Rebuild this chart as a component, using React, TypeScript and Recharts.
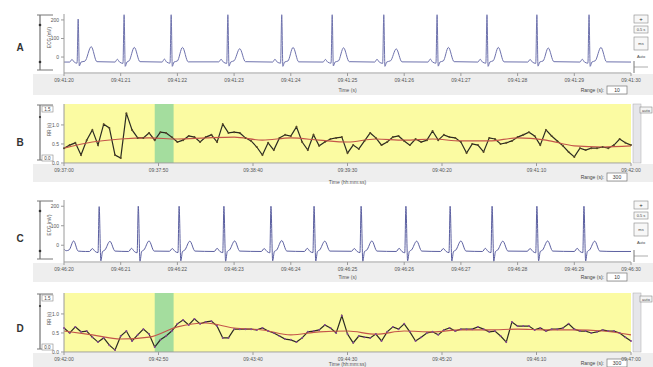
import React from 'react';
import { LineChart, Line, XAxis, YAxis, CartesianGrid, ReferenceArea } from 'recharts';

// ---------- ECG panels (A, C): [time s, amplitude] ----------
const ecgA: [number, number][] = [
  [0, -27],
  [0.10, -27], [0.14, -13], [0.18, -27], [0.23, -33], [0.25, 205], [0.27, -48], [0.30, -27], [0.37, -22], [0.48, 56], [0.58, -25],
  [0.90, -27], [0.94, -12], [0.98, -27], [1.04, -34], [1.06, 228], [1.08, -50], [1.11, -27], [1.15, -20], [1.24, 52], [1.34, -25],
  [1.73, -27], [1.77, -11], [1.81, -27], [1.87, -33], [1.89, 228], [1.91, -50], [1.94, -27], [2.00, -21], [2.09, 52], [2.19, -26],
  [2.73, -26], [2.77, -12], [2.81, -27], [2.87, -34], [2.89, 228], [2.91, -49], [2.94, -27], [3.00, -20], [3.10, 45], [3.20, -25],
  [3.68, -27], [3.72, -12], [3.76, -27], [3.82, -33], [3.84, 228], [3.86, -50], [3.89, -27], [3.95, -21], [4.04, 52], [4.14, -26],
  [4.57, -27], [4.61, -13], [4.65, -27], [4.71, -33], [4.73, 228], [4.75, -48], [4.78, -27], [4.84, -21], [4.93, 50], [5.03, -25],
  [5.48, -27], [5.52, -12], [5.56, -27], [5.62, -34], [5.64, 228], [5.66, -50], [5.69, -27], [5.76, -20], [5.86, 44], [5.96, -26],
  [6.42, -27], [6.46, -11], [6.50, -27], [6.56, -33], [6.58, 228], [6.60, -49], [6.63, -27], [6.69, -21], [6.78, 52], [6.88, -25],
  [7.30, -27], [7.34, -12], [7.38, -27], [7.44, -33], [7.46, 228], [7.48, -50], [7.51, -27], [7.57, -20], [7.66, 52], [7.76, -26],
  [8.18, -27], [8.22, -13], [8.26, -27], [8.32, -34], [8.34, 228], [8.36, -49], [8.39, -27], [8.45, -21], [8.54, 49], [8.64, -25],
  [9.10, -27], [9.14, -12], [9.18, -27], [9.24, -33], [9.26, 228], [9.28, -50], [9.31, -27], [9.37, -20], [9.47, 52], [9.57, -26],
  [10, -27],
];

const ecgC: [number, number][] = [
  [0, -20], [0.04, -28], [0.09, -24], [0.17, 22], [0.25, -30], [0.38, -32],
  [0.45, -32], [0.50, -17], [0.55, -32], [0.60, -38], [0.62, 198], [0.65, -80], [0.68, -32], [0.72, -25], [0.81, 20], [0.90, -30],
  [1.14, -32], [1.19, -16], [1.24, -32], [1.29, -39], [1.31, 200], [1.34, -82], [1.37, -32], [1.41, -24], [1.50, 22], [1.59, -30],
  [1.86, -31], [1.91, -17], [1.96, -32], [2.01, -38], [2.03, 200], [2.06, -80], [2.09, -32], [2.13, -25], [2.22, 21], [2.31, -30],
  [2.65, -32], [2.70, -16], [2.75, -32], [2.80, -38], [2.82, 200], [2.85, -82], [2.88, -32], [2.92, -24], [3.01, 22], [3.10, -30],
  [3.48, -32], [3.53, -17], [3.58, -32], [3.63, -39], [3.65, 200], [3.68, -80], [3.71, -32], [3.75, -25], [3.84, 24], [3.93, -30],
  [4.24, -32], [4.29, -16], [4.34, -32], [4.39, -38], [4.41, 200], [4.44, -81], [4.47, -32], [4.51, -24], [4.60, 21], [4.69, -30],
  [5.07, -31], [5.12, -17], [5.17, -32], [5.22, -38], [5.24, 200], [5.27, -82], [5.30, -32], [5.34, -25], [5.43, 22], [5.52, -30],
  [5.86, -32], [5.91, -16], [5.96, -32], [6.01, -39], [6.03, 200], [6.06, -80], [6.09, -32], [6.13, -24], [6.22, 21], [6.31, -30],
  [6.64, -32], [6.69, -17], [6.74, -32], [6.79, -38], [6.81, 200], [6.84, -81], [6.87, -32], [6.91, -25], [7.00, 22], [7.09, -30],
  [7.38, -32], [7.43, -16], [7.48, -32], [7.53, -38], [7.55, 200], [7.58, -82], [7.61, -32], [7.65, -24], [7.74, 21], [7.83, -30],
  [8.17, -31], [8.22, -17], [8.27, -32], [8.32, -39], [8.34, 200], [8.37, -80], [8.40, -32], [8.44, -25], [8.53, 22], [8.62, -30],
  [9.00, -32], [9.05, -16], [9.10, -32], [9.15, -38], [9.17, 200], [9.20, -81], [9.23, -32], [9.27, -24], [9.36, 21], [9.45, -30],
  [9.70, -32], [10, -32],
];

const ecgTicks = [0, 1, 2, 3, 4, 5, 6, 7, 8, 9, 10];
const ecgATickLabels = ['09:41:20', '09:41:21', '09:41:22', '09:41:23', '09:41:24', '09:41:25', '09:41:26', '09:41:27', '09:41:28', '09:41:29', '09:41:30'];
const ecgCTickLabels = ['09:46:20', '09:46:21', '09:46:22', '09:46:23', '09:46:24', '09:46:25', '09:46:26', '09:46:27', '09:46:28', '09:46:29', '09:46:30'];
const ecgYTicks = [0, 100, 200];

// ---------- RR panels (B, D) ----------
const rrTimes = [0, 3, 6, 9, 12, 15, 18, 21, 24, 27, 30, 33, 36, 39, 42, 45, 48, 51, 54, 57, 60, 63, 66, 69, 72, 75, 78, 81, 84, 87,
  90, 93, 96, 99, 102, 105, 108, 111, 114, 117, 120, 123, 126, 129, 132, 135, 138, 141, 144, 147, 150, 153, 156, 159, 162, 165, 168, 171, 174, 177,
  180, 183, 186, 189, 192, 195, 198, 201, 204, 207, 210, 213, 216, 219, 222, 225, 228, 231, 234, 237, 240, 243, 246, 249, 252, 255, 258, 261, 264, 267,
  270, 273, 276, 279, 282, 285, 288, 291, 294, 297, 300];

const rrB = [0.39, 0.47, 0.53, 0.21, 0.60, 0.87, 0.47, 1.02, 0.92, 0.21,
  0.13, 1.31, 0.87, 0.66, 0.66, 0.79, 0.60, 0.81, 0.79, 0.68,
  0.55, 0.60, 0.71, 0.68, 0.55, 0.68, 0.74, 0.55, 1.02, 0.79,
  0.81, 0.79, 0.66, 0.58, 0.42, 0.21, 0.53, 0.34, 0.66, 0.74,
  0.71, 0.95, 0.55, 0.34, 0.74, 0.45, 0.55, 0.63, 0.66, 0.68,
  0.26, 0.47, 0.37, 0.58, 0.79, 0.66, 0.47, 0.55, 0.68, 0.71,
  0.58, 0.47, 0.63, 0.55, 0.60, 0.84, 0.60, 0.74, 0.68, 0.66,
  0.55, 0.26, 0.50, 0.47, 0.29, 0.66, 0.63, 0.50, 0.53, 0.58,
  0.68, 0.74, 0.81, 0.71, 0.47, 0.87, 0.71, 0.58, 0.45, 0.29,
  0.16, 0.39, 0.34, 0.39, 0.39, 0.42, 0.39, 0.47, 0.63, 0.53,
  0.47];

const rrD = [0.63, 0.50, 0.66, 0.53, 0.55, 0.39, 0.26, 0.37, 0.18, 0.05,
  0.42, 0.55, 0.29, 0.45, 0.60, 0.47, 0.13, 0.32, 0.42, 0.55,
  0.74, 0.84, 0.71, 0.87, 0.74, 0.79, 0.81, 0.68, 0.37, 0.37,
  0.60, 0.60, 0.60, 0.60, 0.58, 0.63, 0.55, 0.50, 0.42, 0.34,
  0.32, 0.26, 0.37, 0.53, 0.55, 0.58, 0.71, 0.63, 0.50, 0.95,
  0.47, 0.24, 0.42, 0.39, 0.37, 0.47, 0.29, 0.53, 0.66, 0.60,
  0.74, 0.53, 0.29, 0.39, 0.50, 0.53, 0.45, 0.58, 0.63, 0.55,
  0.60, 0.60, 0.60, 0.66, 0.60, 0.53, 0.55, 0.42, 0.26, 0.79,
  0.68, 0.68, 0.68, 0.58, 0.63, 0.55, 0.60, 0.60, 0.63, 0.74,
  0.60, 0.55, 0.55, 0.50, 0.53, 0.58, 0.55, 0.55, 0.50, 0.39,
  0.29];

const trendTimes = [0, 15, 30, 45, 60, 75, 90, 105, 120, 135, 150, 165, 180, 195, 210, 225, 240, 255, 270, 285, 300];
const trendB = [0.39, 0.55, 0.63, 0.66, 0.63, 0.66, 0.68, 0.60, 0.66, 0.60, 0.55, 0.63, 0.60, 0.63, 0.58, 0.58, 0.66, 0.60, 0.45, 0.42, 0.45];
const trendD = [0.55, 0.45, 0.34, 0.39, 0.66, 0.76, 0.63, 0.58, 0.45, 0.53, 0.55, 0.47, 0.55, 0.53, 0.58, 0.58, 0.60, 0.58, 0.58, 0.55, 0.45];

const rrTicks = [0, 50, 100, 150, 200, 250, 300];
const rrBTickLabels = ['09:37:00', '09:37:50', '09:38:40', '09:39:30', '09:40:20', '09:41:10', '09:42:00'];
const rrDTickLabels = ['09:42:00', '09:42:50', '09:43:40', '09:44:30', '09:45:20', '09:46:10', '09:47:00'];
const rrYTicks = [0, 0.5, 1.0];
const selectionB: [number, number] = [48, 58];
const selectionD: [number, number] = [48, 58];

const FONT = 'Liberation Sans, Arial, sans-serif';
const AXIS = '#9a9a9a';
const TICK = { fontSize: 5, fill: '#555' };

function EcgPanel({ top, height, mt, xh, pts, labels, color }: any) {
  const data = pts.map(([t, v]: [number, number]) => ({ t, v }));
  return (
    <div style={{ position: 'absolute', left: 0, top }}>
      <LineChart width={653} height={height} data={data} margin={{ top: mt, right: 22, bottom: 0, left: 50 }}>
        <CartesianGrid horizontal={false} vertical={false} fill="#ffffff" />
        <XAxis dataKey="t" type="number" domain={[0, 10]} ticks={ecgTicks} interval={0}
          tickFormatter={(v: number) => labels[Math.round(v)]} height={xh} tick={TICK} tickSize={3} stroke={AXIS}
          label={{ value: 'Time (s)', position: 'insideBottom', offset: 3, fontSize: 5, fill: '#555' }} />
        <XAxis xAxisId="top" orientation="top" dataKey="t" type="number" domain={[0, 10]} ticks={ecgTicks}
          height={0} tick={false} tickSize={3} stroke={AXIS} />
        <YAxis domain={[-86, 232]} ticks={ecgYTicks} width={14} tick={TICK} tickSize={3} stroke={AXIS} />
        <YAxis yAxisId="r" orientation="right" width={0} tick={false} tickLine={false} stroke={AXIS} />
        <Line dataKey="v" type="monotoneX" stroke={color} strokeWidth={1} dot={false} isAnimationActive={false} />
      </LineChart>
    </div>
  );
}

function RrPanel({ top, height, mt, xh, values, trend, labels, sel, dotColor }: any) {
  const raw = rrTimes.map((t, i) => ({ t, v: values[i] }));
  const smooth = trendTimes.map((t, i) => ({ t, v: trend[i] }));
  return (
    <div style={{ position: 'absolute', left: 0, top }}>
      <LineChart width={653} height={height} margin={{ top: mt, right: 22, bottom: 0, left: 50 }}>
        <CartesianGrid horizontal={false} vertical={false} fill="#fbfba2" />
        <ReferenceArea x1={sel[0]} x2={sel[1]} fill="#a4dd9e" fillOpacity={1} stroke="none" />
        <XAxis dataKey="t" type="number" domain={[0, 300]} ticks={rrTicks} interval={0}
          tickFormatter={(v: number) => labels[Math.round(v / 50)]} height={xh} tick={TICK} tickSize={3} stroke={AXIS}
          label={{ value: 'Time (hh:mm:ss)', position: 'insideBottom', offset: 1, fontSize: 5, fill: '#555' }} />
        <XAxis xAxisId="top" orientation="top" dataKey="t" type="number" domain={[0, 300]} ticks={rrTicks}
          height={0} tick={false} tickSize={4} stroke={AXIS} />
        <YAxis domain={[0, 1.55]} ticks={rrYTicks} width={14} tick={TICK} tickSize={3} stroke={AXIS}
          tickFormatter={(v: number) => v.toFixed(1)} />
        <YAxis yAxisId="r" orientation="right" width={0} tick={false} tickLine={false} stroke={AXIS} />
        <Line data={raw} dataKey="v" type="linear" stroke="#2b2b22" strokeWidth={1.2}
          dot={{ r: 1, fill: dotColor, stroke: 'none' }} isAnimationActive={false} />
        <Line data={smooth} dataKey="v" type="monotoneX" stroke="#c4554a" strokeWidth={1.1} dot={false} isAnimationActive={false} />
      </LineChart>
    </div>
  );
}

const frames = [
  { letter: 'A', top: 14, bottom: 73, cy: 47, kind: 'ecg', band: 21, range: '10' },
  { letter: 'B', top: 104, bottom: 163, cy: 142, kind: 'rr', band: 18, range: '300' },
  { letter: 'C', top: 200, bottom: 262, cy: 238, kind: 'ecg', band: 19, range: '10' },
  { letter: 'D', top: 293, bottom: 352, cy: 328, kind: 'rr', band: 15, range: '300' },
];

function Chrome() {
  return (
    <svg width={653} height={367} style={{ position: 'absolute', left: 0, top: 0 }} fontFamily={FONT}>
      {frames.map((f) => {
        const mid = (f.top + f.bottom) / 2;
        const ry = f.bottom + f.band - 4;
        return (
          <g key={f.letter}>
            <rect x={33} y={f.bottom + 1} width={620} height={f.band} fill="#eeeeee" />
            <text x={20} y={f.cy + 4} fontSize={10} fontWeight="bold" fill="#333" textAnchor="middle">{f.letter}</text>
            <line x1={40} y1={f.top + 1} x2={40} y2={f.bottom - 3} stroke="#555" strokeWidth={1} />
            <line x1={37} y1={f.top + 1} x2={53} y2={f.top + 1} stroke="#777" strokeWidth={1} />
            <line x1={37} y1={f.bottom - 3} x2={53} y2={f.bottom - 3} stroke="#777" strokeWidth={1} />
            {f.kind === 'ecg' ? (
              <g>
                <circle cx={40} cy={f.top + 11} r={1.3} fill="#333" />
                <circle cx={40} cy={f.bottom - 11} r={1.3} fill="#333" />
                <text transform={`translate(51 ${mid - 6}) rotate(-90)`} fontSize={4.5} fill="#555" textAnchor="middle">ECG (mV)</text>
              </g>
            ) : (
              <g>
                <rect x={42} y={f.top + 2} width={11} height={6} fill="#fff" stroke="#888" strokeWidth={0.6} />
                <text x={47.5} y={f.top + 6.6} fontSize={4.5} fill="#444" textAnchor="middle">1.5</text>
                <rect x={42} y={f.bottom - 8} width={11} height={6} fill="#fff" stroke="#888" strokeWidth={0.6} />
                <text x={47.5} y={f.bottom - 3.4} fontSize={4.5} fill="#444" textAnchor="middle">0.0</text>
                <circle cx={40} cy={f.top + 13} r={1.1} fill="#333" />
                <text transform={`translate(51 ${mid - 4}) rotate(-90)`} fontSize={4.5} fill="#555" textAnchor="middle">RR (s)</text>
              </g>
            )}
            {f.kind === 'ecg' ? (
              <g>
                <rect x={634} y={f.top + 1} width={14} height={8} fill="#f7f7f7" stroke="#888" strokeWidth={0.6} />
                <text x={641} y={f.top + 7} fontSize={6} fill="#333" textAnchor="middle">+</text>
                <rect x={634} y={f.top + 12} width={14} height={7} fill="#f7f7f7" stroke="#888" strokeWidth={0.6} />
                <text x={641} y={f.top + 17} fontSize={4} fill="#444" textAnchor="middle">0.5 s</text>
                <rect x={634} y={f.top + 23} width={14} height={13} fill="#f7f7f7" stroke="#888" strokeWidth={0.6} />
                <text x={641} y={f.top + 31} fontSize={4} fill="#444" textAnchor="middle">ms</text>
                <text x={641} y={f.top + 44} fontSize={4} fill="#444" textAnchor="middle">Auto</text>
                <line x1={634} y1={f.bottom - 12} x2={634} y2={f.bottom} stroke="#555" strokeWidth={0.8} />
                <line x1={634} y1={f.bottom - 6} x2={648} y2={f.bottom - 6} stroke="#777" strokeWidth={0.6} />
              </g>
            ) : (
              <g>
                <rect x={633} y={f.top} width={8} height={f.bottom - f.top} fill="#e6e6ea" stroke="#aaa" strokeWidth={0.5} />
                <rect x={640} y={f.top + 3} width={12} height={6} fill="#f5f5f5" stroke="#888" strokeWidth={0.6} />
                <text x={646} y={f.top + 7.5} fontSize={4} fill="#444" textAnchor="middle">auto</text>
              </g>
            )}
            <text x={604} y={ry + 2} fontSize={5} fill="#444" textAnchor="end">Range (s):</text>
            <rect x={607} y={ry - 4} width={20} height={8} fill="#fff" stroke="#777" strokeWidth={0.7} />
            <text x={617} y={ry + 2} fontSize={5} fill="#333" textAnchor="middle">{f.range}</text>
          </g>
        );
      })}
    </svg>
  );
}

export default function App() {
  return (
    <div style={{ position: 'absolute', left: 0, top: 0, width: 653, height: 367, background: '#fff', fontFamily: FONT, overflow: 'hidden' }}>
      <Chrome />
      <EcgPanel top={0} height={95} mt={14} xh={22} pts={ecgA} labels={ecgATickLabels} color="#6e72ad" />
      <RrPanel top={95} height={90} mt={9} xh={22} values={rrB} trend={trendB} labels={rrBTickLabels} sel={selectionB} dotColor="#5a4a28" />
      <EcgPanel top={185} height={97} mt={15} xh={20} pts={ecgC} labels={ecgCTickLabels} color="#5b5fa0" />
      <RrPanel top={282} height={85} mt={11} xh={15} values={rrD} trend={trendD} labels={rrDTickLabels} sel={selectionD} dotColor="#8a4a94" />
    </div>
  );
}
